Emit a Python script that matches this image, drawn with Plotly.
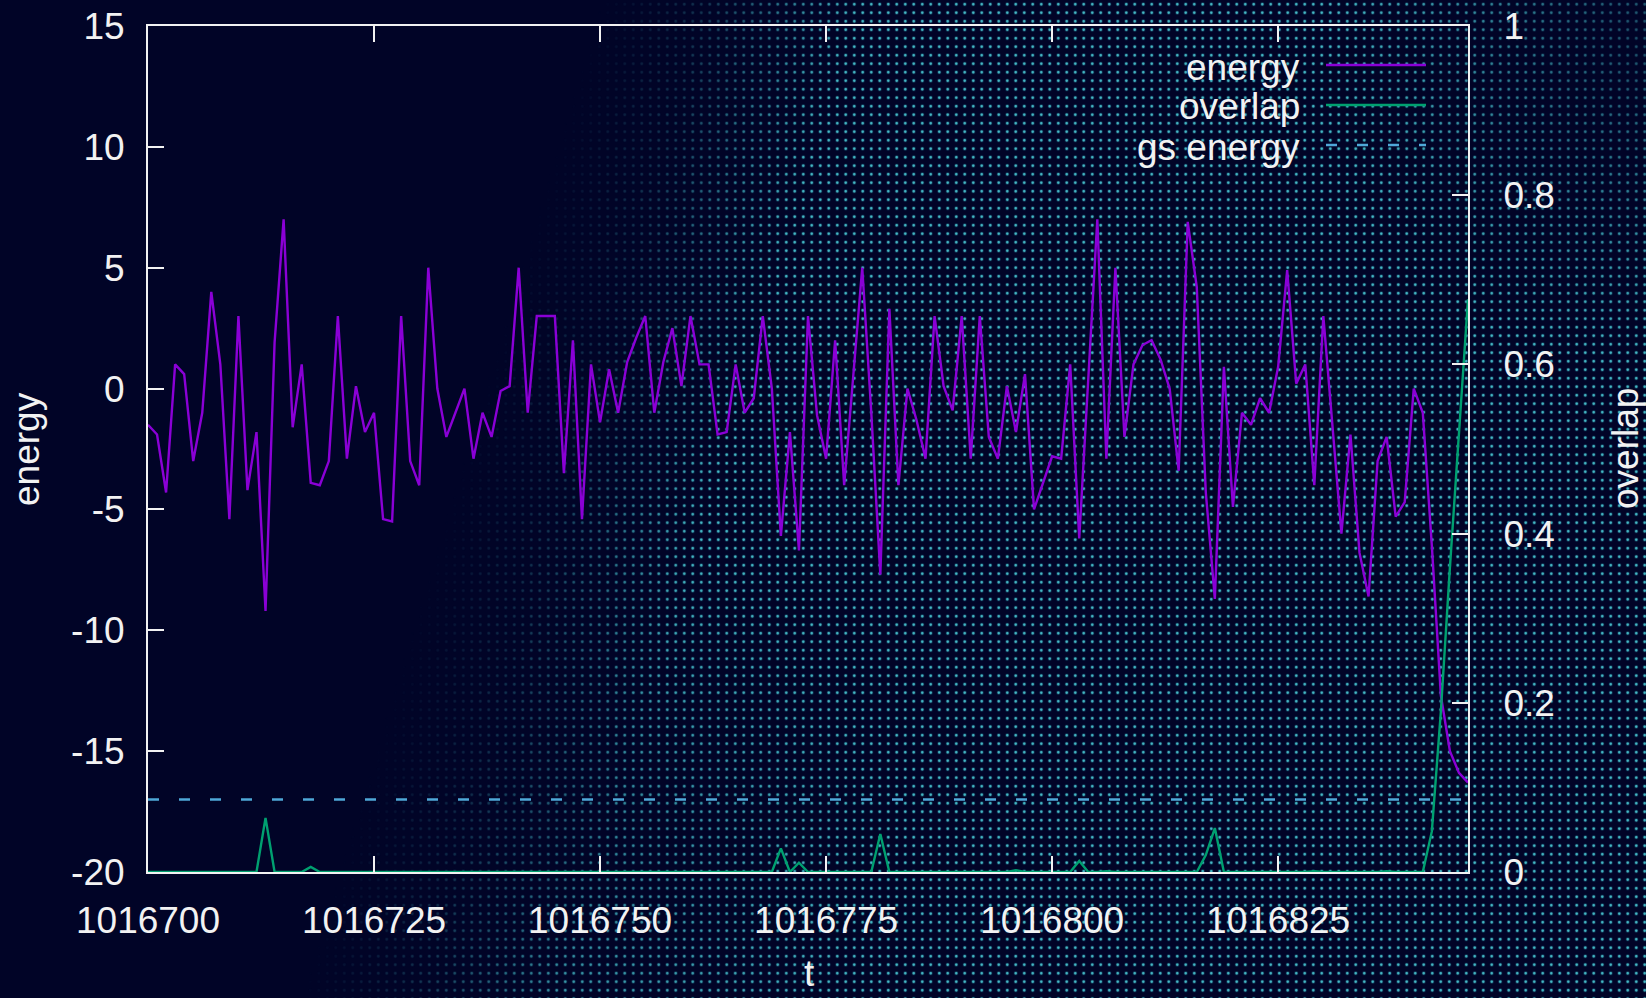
import base64
import plotly.graph_objects as go

# ---- data -------------------------------------------------------------
t_start = 1016700
t = list(range(t_start, t_start + 147))

energy = [
    -1.5, -1.9, -4.3, 1.0, 0.6, -3.0, -1.0, 4.0, 1.0, -5.4,
    3.0, -4.2, -1.8, -9.2, 1.9, 7.0, -1.6, 1.0, -3.9, -4.0,
    -3.0, 3.0, -2.9, 0.1, -1.8, -1.0, -5.4, -5.5, 3.0, -3.0,
    -4.0, 5.0, 0.0, -2.0, -1.0, 0.0, -2.9, -1.0, -2.0, -0.1,
    0.1, 5.0, -1.0, 3.0, 3.0, 3.0, -3.5, 2.0, -5.4, 1.0,
    -1.4, 0.8, -1.0, 1.1, 2.1, 3.0, -1.0, 1.1, 2.5, 0.1,
    3.0, 1.0, 1.0, -1.9, -1.8, 1.0, -1.0, -0.4, 3.0, 0.0,
    -6.1, -1.8, -6.7, 3.0, -1.1, -2.9, 2.0, -4.0, 0.5, 5.0,
    -1.0, -7.7, 3.3, -4.0, 0.0, -1.3, -2.9, 3.0, 0.1, -0.9,
    3.0, -2.9, 3.0, -2.0, -2.9, 0.1, -1.8, 0.6, -5.0, -3.9,
    -2.8, -2.9, 1.0, -6.2, 0.3, 7.0, -2.9, 5.0, -2.0, 1.0,
    1.8, 2.0, 1.2, 0.0, -3.4, 6.9, 4.2, -4.3, -8.7, 0.9,
    -4.9, -1.0, -1.5, -0.4, -1.0, 0.9, 4.9, 0.2, 1.0, -4.0,
    3.0, -1.5, -6.0, -1.9, -6.8, -8.6, -3.0, -2.0, -5.3, -4.7,
    0.0, -1.0, -6.5, -12.7, -15.0, -15.9, -16.3,
]

overlap = [
    0, 0, 0, 0, 0, 0, 0, 0, 0, 0,
    0, 0, 0, 0.064, 0, 0, 0, 0, 0.006, 0,
    0, 0, 0, 0, 0, 0, 0, 0, 0, 0,
    0, 0, 0, 0, 0, 0, 0, 0, 0, 0,
    0, 0, 0, 0, 0, 0, 0, 0, 0, 0,
    0, 0, 0, 0, 0, 0, 0, 0, 0, 0,
    0, 0, 0, 0, 0, 0, 0, 0, 0, 0,
    0.028, 0, 0.011, 0, 0, 0, 0, 0, 0, 0,
    0, 0.045, 0, 0, 0, 0, 0, 0, 0, 0,
    0, 0, 0, 0, 0, 0, 0.002, 0, 0, 0,
    0, 0, 0, 0.013, 0, 0, 0.001, 0, 0, 0,
    0, 0, 0, 0, 0, 0, 0, 0.02, 0.052, 0,
    0, 0, 0, 0, 0, 0, 0, 0, 0, 0.001,
    0, 0, 0, 0, 0, 0, 0, 0.001, 0, 0,
    0, 0, 0.048, 0.19, 0.36, 0.52, 0.677,
]

gs_energy = -17.0

legend_names = ["energy", "overlap", "gs energy"]

energy_ticks = [-20, -15, -10, -5, 0, 5, 10, 15]
energy_tick_text = ["-20", "-15", "-10", "-5", "0", "5", "10", "15"]

# ---- page geometry ------------------------------------------------------
W, H = 1646, 998
ML, MR, MT, MB = 148, 178, 26, 126
PW, PH = W - ML - MR, H - MT - MB

BG = "#010427"
FG = "#f2f2f2"
FONT = "Liberation Sans"
C_ENERGY = "#8a00d6"
C_OVERLAP = "#00a070"
C_GS = "#4fa8d8"


def fx(px):
    return (px - ML) / PW


def fy(py):
    return (H - MB - py) / PH


# ---- halftone dot backdrop ---------------------------------------------
svg = f'''<svg xmlns="http://www.w3.org/2000/svg" width="{W}" height="{H}" viewBox="0 0 {W} {H}">
<defs>
<pattern id="dots" width="8.5" height="8.5" patternUnits="userSpaceOnUse">
<circle cx="4.25" cy="4.25" r="2.1" fill="#1fb4c4" fill-opacity="0.18"/>
<circle cx="4.25" cy="4.25" r="1.3" fill="#55e4ec"/>
</pattern>
<linearGradient id="ramp" gradientUnits="userSpaceOnUse" x1="551" y1="165" x2="790" y2="237">
<stop offset="0" stop-color="#fff" stop-opacity="0"/>
<stop offset="0.4" stop-color="#fff" stop-opacity="0.22"/>
<stop offset="1" stop-color="#fff" stop-opacity="0.85"/>
</linearGradient>
<radialGradient id="edge" gradientUnits="userSpaceOnUse" cx="1646" cy="40" r="320">
<stop offset="0" stop-color="#000" stop-opacity="0.6"/>
<stop offset="1" stop-color="#000" stop-opacity="0"/>
</radialGradient>
<radialGradient id="low" gradientUnits="userSpaceOnUse" cx="560" cy="840" r="330">
<stop offset="0" stop-color="#000" stop-opacity="0.35"/>
<stop offset="1" stop-color="#000" stop-opacity="0"/>
</radialGradient>
<mask id="fade" maskUnits="userSpaceOnUse" x="0" y="0" width="{W}" height="{H}">
<rect width="{W}" height="{H}" fill="url(#ramp)"/>
<rect width="{W}" height="{H}" fill="url(#edge)"/>
<rect width="{W}" height="{H}" fill="url(#low)"/>
</mask>
</defs>
<rect width="{W}" height="{H}" fill="{BG}"/>
<rect width="{W}" height="{H}" fill="url(#dots)" mask="url(#fade)"/>
</svg>'''
bg_src = "data:image/svg+xml;base64," + base64.b64encode(svg.encode()).decode()

# ---- traces -----------------------------------------------------------
fig = go.Figure()
fig.add_trace(go.Scatter(
    x=t, y=energy, mode="lines", name=legend_names[0],
    line=dict(color=C_ENERGY, width=2.4), yaxis="y",
))
fig.add_trace(go.Scatter(
    x=t, y=overlap, mode="lines", name=legend_names[1],
    line=dict(color=C_OVERLAP, width=2.4), yaxis="y2",
))
fig.add_trace(go.Scatter(
    x=[t[0], t[-1]], y=[gs_energy, gs_energy], mode="lines", name=legend_names[2],
    line=dict(color=C_GS, width=2.5, dash="11px,20px"), yaxis="y",
))

tickfont = dict(family=FONT, size=37, color=FG)
axis_common = dict(
    showgrid=False, zeroline=False, showline=True, linecolor=FG, linewidth=2,
    ticks="inside", ticklen=16, tickwidth=2, tickcolor=FG, tickfont=tickfont,
)

fig.update_layout(
    width=W, height=H,
    margin=dict(l=ML, r=MR, t=MT, b=MB, autoexpand=False),
    paper_bgcolor=BG, plot_bgcolor="rgba(0,0,0,0)",
    showlegend=False,
    xaxis=dict(range=[t[0], t[-1]], tick0=t_start, dtick=25, tickformat="d",
               mirror="ticks", ticklabelstandoff=15, **axis_common),
    yaxis=dict(range=[-20, 15], tickmode="array", tickvals=energy_ticks,
               ticktext=energy_tick_text, mirror=True, ticklabelstandoff=14,
               **axis_common),
    yaxis2=dict(range=[0, 1], dtick=0.2, overlaying="y", side="right",
                anchor="x", ticklabelstandoff=26, **axis_common),
    images=[dict(
        source=bg_src, xref="paper", yref="paper",
        x=-ML / PW, y=1 + MT / PH, sizex=W / PW, sizey=H / PH,
        xanchor="left", yanchor="top", sizing="stretch", layer="below",
    )],
)

# axis titles
title_font = dict(family=FONT, size=37, color=FG)
fig.add_annotation(text="energy", x=fx(26), y=fy(449), xref="paper", yref="paper",
                   textangle=-90, showarrow=False, font=title_font,
                   xanchor="center", yanchor="middle")
fig.add_annotation(text="overlap", x=fx(1625), y=fy(449), xref="paper", yref="paper",
                   textangle=-90, showarrow=False, font=title_font,
                   xanchor="center", yanchor="middle")
fig.add_annotation(text="t", x=fx(809), y=fy(973), xref="paper", yref="paper",
                   showarrow=False, font=title_font,
                   xanchor="center", yanchor="middle")

# key: label on the left, line sample on the right
key_rows = [67, 107, 147]
key_styles = [
    dict(color=C_ENERGY, width=2.4),
    dict(color=C_OVERLAP, width=2.4),
    dict(color=C_GS, width=2.5, dash="11px,20px"),
]
for name, row, style in zip(legend_names, key_rows, key_styles):
    fig.add_annotation(text=name, x=fx(1302), y=fy(row), xref="paper", yref="paper",
                       showarrow=False, font=title_font,
                       xanchor="right", yanchor="middle")
    fig.add_shape(type="line", xref="paper", yref="paper",
                  x0=fx(1326), x1=fx(1426), y0=fy(row - 2), y1=fy(row - 2), line=style)

fig.write_html("out.html")
